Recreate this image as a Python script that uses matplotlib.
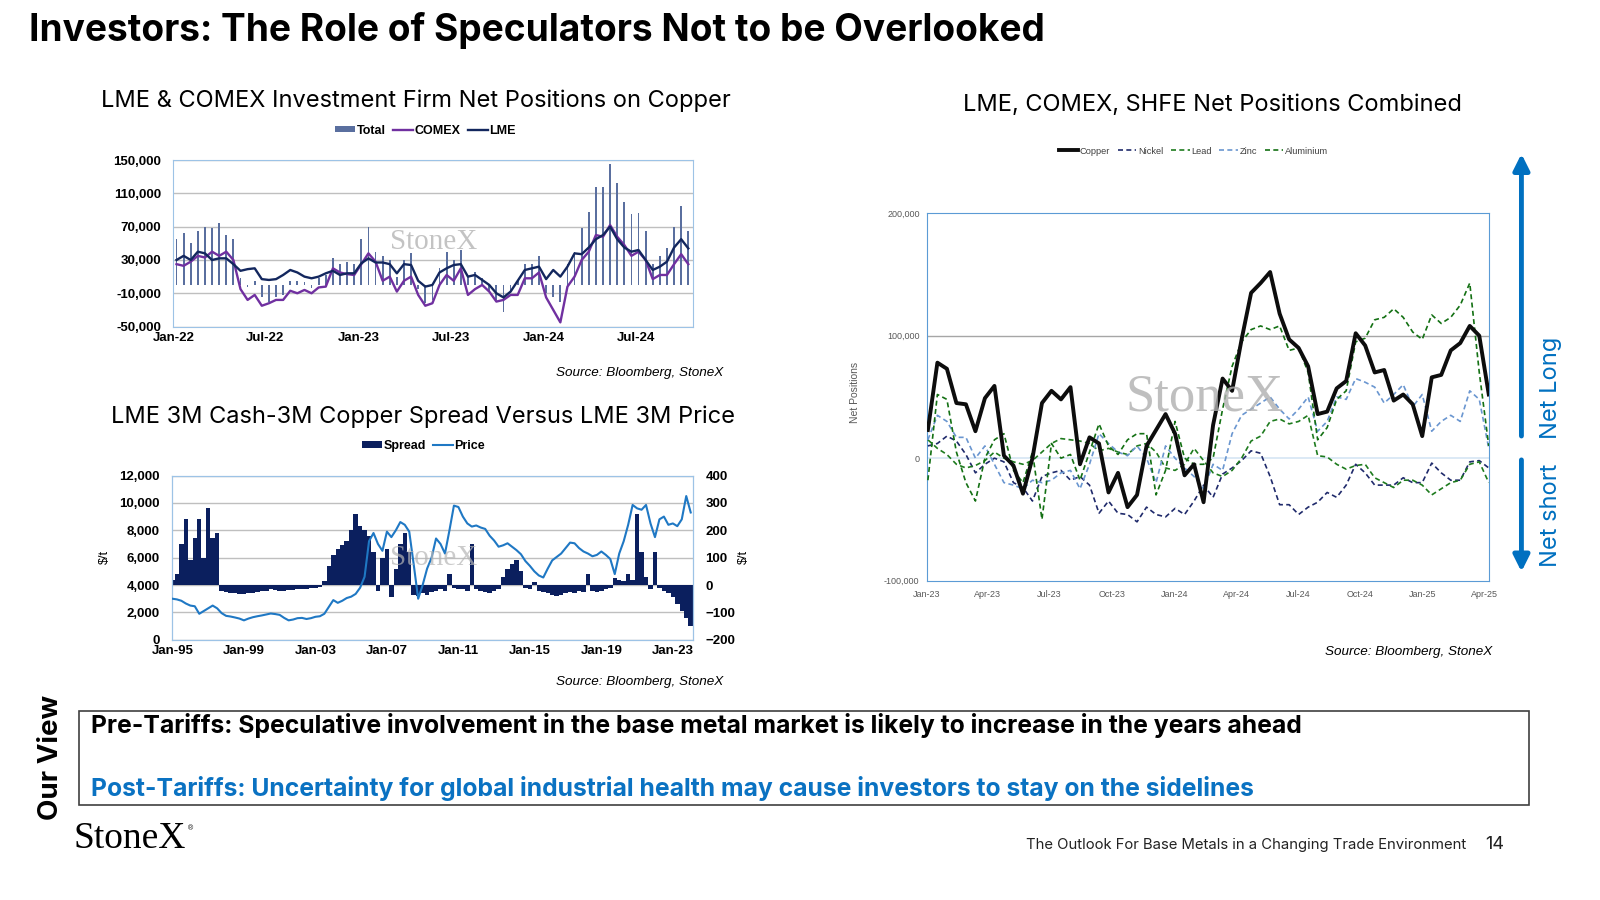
import matplotlib
matplotlib.use('Agg')
import matplotlib.pyplot as plt
from matplotlib.patches import Rectangle, FancyArrowPatch
import numpy as np
import pandas as pd

# ---------------- DATA ----------------
# Top-left: LME & COMEX investment firm net positions (thousand lots), bi-weekly
tl_start = '2022-01-07'
tl_lme = [30, 35, 30, 40, 38, 30, 32, 32, 25, 17,
          19, 20, 7, 6, 7, 12, 18, 15, 10, 8,
          10, 14, 17, 12, 14, 14, 26, 32, 27, 27,
          25, 14, 25, 24, 5, -2, 0, 15, 20, 24,
          25, 10, 12, 6, 0, -10, -15, -8, 5, 18,
          20, 22, 7, 18, 10, 22, 38, 37, 45, 55,
          60, 70, 55, 45, 40, 42, 30, 18, 22, 28,
          45, 55, 44]
tl_comex = [25, 23, 28, 35, 33, 40, 35, 40, 30, -5,
            -18, -12, -25, -22, -18, -18, -7, -10, -6, -10,
            -3, -2, 20, 15, 13, 12, 25, 38, 28, 5,
            10, -8, 5, 10, -12, -25, -22, 0, 12, 5,
            20, -12, -5, 0, -8, -20, -18, -12, -12, 8,
            8, 15, -15, -30, -45, -2, 10, 30, 40, 60,
            58, 72, 58, 48, 35, 40, 30, 7, 12, 12,
            25, 37, 25]
tl_total = [55, 62, 50, 65, 70, 68, 74, 60, 55, 8,
            -3, 5, -15, -20, -15, -12, 5, 5, 3, -4,
            8, 12, 32, 25, 28, 25, 55, 70, 40, 35,
            30, 10, 30, 38, -5, -22, -18, 20, 40, 30,
            42, 10, 15, 8, -8, -18, -32, -10, 5, 25,
            25, 35, -10, -15, -20, 25, 40, 68, 88, 118,
            118, 145, 122, 100, 85, 87, 65, 25, 35, 45,
            70, 95, 65]
tl_ticks = ['2022-01-01', '2022-07-01', '2023-01-01', '2023-07-01', '2024-01-01', '2024-07-01']
tl_ticklabels = ['Jan-22', 'Jul-22', 'Jan-23', 'Jul-23', 'Jan-24', 'Jul-24']

# Bottom-left: LME 3M price ($/t, thousands) and cash-3M spread ($/t), quarterly from 1995
bl_start_year = 1995
bl_price = [3.00, 2.95, 2.85, 2.65,  2.50, 2.45, 1.90, 2.10,  2.30, 2.50, 2.30, 1.95,
            1.75, 1.70, 1.63, 1.55,  1.42, 1.55, 1.65, 1.72,  1.78, 1.85, 1.92, 1.88,
            1.82, 1.60, 1.42, 1.48,  1.58, 1.60, 1.52, 1.58,  1.68, 1.72, 1.90, 2.40,
            2.90, 2.70, 2.85, 3.05,  3.15, 3.35, 3.80, 4.60,  7.20, 7.80, 7.00, 6.50,
            7.90, 7.50, 8.00, 8.60,  8.40, 7.90, 5.50, 3.00,  4.00, 5.20, 6.00, 7.40,
            7.00, 6.30, 8.00, 9.80,  9.70, 9.00, 8.50, 8.27,  8.35, 8.20, 8.10, 7.60,
            7.25, 6.80, 6.90, 7.05,  6.80, 6.55, 6.25, 5.75,  5.40, 5.00, 4.70, 4.55,
            5.20, 5.80, 6.05, 6.30,  6.70, 7.10, 7.05, 6.70,  6.45, 6.30, 6.10, 6.20,
            6.45, 6.20, 5.90, 4.80,  6.30, 7.20, 8.40, 9.85,  9.60, 9.50, 9.85, 8.50,
            7.50, 8.80, 9.00, 8.40,  8.50, 8.30, 8.80, 10.50, 9.30]
bl_spread = [20, 40, 150, 240,  90, 170, 240, 100,  280, 170, 190, -20,
             -25, -28, -30, -32,  -33, -30, -28, -25,  -22, -20, -15, -18,
             -20, -22, -18, -17,  -15, -14, -13, -12,  -10, -8, 15, 70,
             110, 130, 145, 160,  200, 260, 215, 200,  180, 120, -20, 100,
             130, -45, 60, 150,  190, 120, -35, -40,  -30, -35, -25, -20,
             -15, -20, 40, -10,  -15, -15, -20, 150,  -15, -20, -25, -28,
             -22, -15, 30, 60,  75, 90, 50, -10,  -15, 10, -20, -25,
             -30, -35, -40, -35,  -30, -25, -30, -20,  -25, 40, -20, -25,
             -20, -15, -10, 25,  20, 15, 40, 20,  260, 120, 30, -15,
             120, -10, -20, -30,  -45, -70, -95, -120, -150]
bl_ticks = [1995, 1999, 2003, 2007, 2011, 2015, 2019, 2023]
bl_ticklabels = ['Jan-95', 'Jan-99', 'Jan-03', 'Jan-07', 'Jan-11', 'Jan-15', 'Jan-19', 'Jan-23']

# Right: LME, COMEX, SHFE combined net positions (thousands), bi-weekly
r_start = '2023-01-03'
r_copper = [23, 78, 73, 45, 44, 22, 49, 59, 2, -6,
            -29, 0, 45, 55, 48, 58, -5, 17, 12, -28,
            -12, -40, -30, 10, 23, 36, 20, -14, -5, -36,
            27, 65, 55, 97, 135, 143, 152, 118, 97, 90,
            75, 36, 38, 57, 63, 102, 92, 70, 72, 47,
            52, 44, 18, 66, 68, 88, 94, 108, 100, 52]
r_nickel = [10, 12, 18, 14, 3, -12, -5, 0, -3, -20,
            -24, -35, -15, -12, -10, -18, -15, -22, -45, -35,
            -45, -46, -52, -40, -46, -48, -41, -46, -35, -22,
            -32, -13, -8, -2, 6, 4, -15, -38, -38, -46,
            -40, -36, -28, -32, -22, -5, -12, -22, -22, -22,
            -16, -20, -20, -4, -12, -18, -18, -3, -2, -8]
r_lead = [15, 8, 3, -5, -8, -6, -2, 5, 0, -3,
          -5, -2, 5, 12, 16, 15, 14, 12, 6, 8,
          5, 3, 10, 12, 5, -8, -10, -5, 8, -2,
          -12, -15, -10, 0, 14, 18, 30, 32, 28, 30,
          35, 2, 1, -5, -9, -6, -5, -16, -20, -24,
          -18, -18, -22, -30, -25, -20, -18, -5, -3, -20]
r_zinc = [15, 35, 30, 17, 17, 0, 10, -5, -20, -22,
          -25, -18, -20, -18, -12, -10, -25, -5, 20, 12,
          5, 2, 10, 0, -20, 10, 0, -8, -15, -25,
          -5, -10, 20, 35, 40, 45, 50, 40, 32, 40,
          50, 22, 30, 50, 48, 65, 62, 58, 45, 52,
          60, 42, 52, 22, 30, 35, 30, 55, 48, 8]
r_aluminium = [-18, 52, 48, 5, -20, -35, 0, 15, 20, -10,
               -20, 5, -50, 12, 0, 3, -18, 5, 28, 10,
               3, 15, 20, 20, -30, -10, 30, 0, -5, -5,
               0, 40, 75, 95, 105, 108, 105, 108, 88, 90,
               70, 15, 25, 48, 55, 95, 98, 113, 115, 122,
               115, 103, 97, 117, 110, 115, 125, 143, 70, 10]
r_ticks = ['2023-01-01', '2023-04-01', '2023-07-01', '2023-10-01', '2024-01-01',
           '2024-04-01', '2024-07-01', '2024-10-01', '2025-01-01', '2025-04-01']
r_ticklabels = ['Jan-23', 'Apr-23', 'Jul-23', 'Oct-23', 'Jan-24',
                'Apr-24', 'Jul-24', 'Oct-24', 'Jan-25', 'Apr-25']

# ---------------- FIGURE ----------------
W, H = 1600, 900
S = 1600 / 1568.0   # layout measured on a 1568x882 view of the slide
def fx(x): return x * S / W
def fy(y): return 1 - y * S / H
def fw(w): return w * S / W
def fh(h): return h * S / H

HEAD = ['Inter', 'DejaVu Sans']
ARIAL = ['Liberation Sans', 'DejaVu Sans']
NARROW = ['Liberation Sans Narrow', 'Liberation Sans', 'DejaVu Sans']
SERIF = ['Liberation Serif', 'DejaVu Serif']
BLUE = '#0a72c2'
ARROW_BLUE = '#0070c0'

fig = plt.figure(figsize=(16, 9), dpi=100)
fig.patch.set_facecolor('white')

fig.text(fx(28), fy(30), 'Investors: The Role of Speculators Not to be Overlooked',
         ha='left', va='center', fontsize=26.7, fontweight='bold', family=HEAD, color='black')

# ---------- top-left chart ----------
tl_dates = pd.date_range(tl_start, periods=len(tl_lme), freq='14D')
ax1 = fig.add_axes([fx(170), fy(320), fw(679 - 170), fh(320 - 157)])
b1 = ax1.bar(tl_dates, np.array(tl_total) * 1000, width=3.5, color='#5a6f9f', label='Total', zorder=2)
l1, = ax1.plot(tl_dates, np.array(tl_comex) * 1000, color='#7030a0', lw=1.7, label='COMEX', zorder=3)
l2, = ax1.plot(tl_dates, np.array(tl_lme) * 1000, color='#13275e', lw=1.7, label='LME', zorder=4)
ax1.set_ylim(-50000, 150000)
ax1.set_yticks(np.arange(-50000, 150001, 40000))
ax1.set_yticklabels([f'{v:,}' for v in np.arange(-50000, 150001, 40000)])
ax1.set_xlim(pd.Timestamp('2022-01-01'), pd.Timestamp('2024-10-20'))
ax1.set_xticks(pd.to_datetime(tl_ticks))
ax1.set_xticklabels(tl_ticklabels)
ax1.yaxis.grid(True, color='#bfbfbf', lw=1, zorder=0)
ax1.set_axisbelow(True)
for s in ax1.spines.values():
    s.set_color('#9dc3e6')
ax1.tick_params(axis='y', length=0, labelsize=9.5, pad=9)
ax1.tick_params(axis='x', length=0, labelsize=9.5, pad=4)
for lab in ax1.get_xticklabels() + ax1.get_yticklabels():
    lab.set_fontweight('bold'); lab.set_family(ARIAL)
ax1.legend([b1, l1, l2], ['Total', 'COMEX', 'LME'], loc='center',
           bbox_to_anchor=(fx(417), fy(128)), bbox_transform=fig.transFigure,
           ncol=3, frameon=False, prop=dict(family=ARIAL, weight='bold', size=9),
           handlelength=1.6, handleheight=0.4, handletextpad=0.1, columnspacing=0.6)
fig.text(fx(408), fy(99), 'LME & COMEX Investment Firm Net Positions on Copper',
         ha='center', va='center', fontsize=17, family=HEAD)
fig.text(fx(425), fy(237), 'StoneX', ha='center', va='center', fontsize=21,
         family=SERIF, color='#b5b5b5', alpha=0.8, zorder=5)
fig.text(fx(709), fy(366), 'Source: Bloomberg, StoneX', ha='right', va='center',
         fontsize=9.7, style='italic', family=ARIAL)

# ---------- bottom-left chart ----------
bl_years = bl_start_year + 0.25 * np.arange(len(bl_price))
ax2 = fig.add_axes([fx(169), fy(627), fw(679 - 169), fh(627 - 466)])
ax2r = ax2.twinx()
ax2r.bar(bl_years, bl_spread, width=0.25, color='#0b1f5e', label='Spread', zorder=2)
ax2.plot(bl_years, np.array(bl_price) * 1000, color='#1f78c4', lw=1.5, label='Price', zorder=3)
ax2.set_zorder(ax2r.get_zorder() + 1)
ax2.patch.set_visible(False)
ax2.set_ylim(0, 12000)
ax2.set_yticks(np.arange(0, 12001, 2000))
ax2.set_yticklabels([f'{v:,}' for v in np.arange(0, 12001, 2000)])
ax2r.set_ylim(-200, 400)
ax2r.set_yticks(np.arange(-200, 401, 100))
ax2r.yaxis.grid(True, color='#bfbfbf', lw=1, zorder=0)
ax2r.set_axisbelow(True)
ax2.set_xlim(1995, 2024.12)
ax2.set_xticks(bl_ticks)
ax2.set_xticklabels(bl_ticklabels)
for a in (ax2, ax2r):
    for s in a.spines.values():
        s.set_color('#9dc3e6')
    a.tick_params(axis='y', length=0, labelsize=9.5, pad=9)
    a.tick_params(axis='x', length=0, labelsize=9.5, pad=4)
for lab in ax2.get_xticklabels() + ax2.get_yticklabels() + ax2r.get_yticklabels():
    lab.set_fontweight('bold'); lab.set_family(ARIAL)
h1, lb1 = ax2r.get_legend_handles_labels()
h2, lb2 = ax2.get_legend_handles_labels()
ax2.legend(h1 + h2, lb1 + lb2, loc='center', bbox_to_anchor=(fx(415), fy(437)),
           bbox_transform=fig.transFigure, ncol=2, frameon=False,
           prop=dict(family=ARIAL, weight='bold', size=9),
           handlelength=1.6, handleheight=0.4, handletextpad=0.1, columnspacing=0.6)
fig.text(fx(103), fy(546), '$/t', rotation=90, ha='center', va='center', fontsize=9, family=ARIAL)
fig.text(fx(729), fy(546), '$/t', rotation=90, ha='center', va='center', fontsize=9, family=ARIAL)
fig.text(fx(415), fy(408), 'LME 3M Cash-3M Copper Spread Versus LME 3M Price',
         ha='center', va='center', fontsize=17, family=HEAD)
fig.text(fx(425), fy(547), 'StoneX', ha='center', va='center', fontsize=21,
         family=SERIF, color='#b5b5b5', alpha=0.7, zorder=5)
fig.text(fx(709), fy(668), 'Source: Bloomberg, StoneX', ha='right', va='center',
         fontsize=9.7, style='italic', family=ARIAL)

# ---------- right chart ----------
r_dates = pd.date_range(r_start, periods=len(r_copper), freq='14D')
ax3 = fig.add_axes([fx(908), fy(569), fw(1459 - 908), fh(569 - 209)])
ax3.axhline(100000, color='#a6a6a6', lw=1, zorder=1)
ax3.axhline(0, color='#d5e5f4', lw=1.2, zorder=1)
ax3.plot(r_dates, np.array(r_copper) * 1000, color='#0d0d0d', lw=2.8, label='Copper', zorder=6)
ax3.plot(r_dates, np.array(r_nickel) * 1000, color='#1f2a6b', lw=1.2, ls=(0, (3, 2)), label='Nickel', zorder=4)
ax3.plot(r_dates, np.array(r_lead) * 1000, color='#1e7b1e', lw=1.2, ls=(0, (3, 2)), label='Lead', zorder=4)
ax3.plot(r_dates, np.array(r_zinc) * 1000, color='#6a96d0', lw=1.2, ls=(0, (3, 2)), label='Zinc', zorder=4)
ax3.plot(r_dates, np.array(r_aluminium) * 1000, color='#137013', lw=1.2, ls=(0, (3, 2)), label='Aluminium', zorder=4)
ax3.set_ylim(-100000, 200000)
ax3.set_yticks([-100000, 0, 100000, 200000])
ax3.set_yticklabels(['-100,000', '0', '100,000', '200,000'])
ax3.set_xlim(pd.Timestamp('2023-01-01'), pd.Timestamp('2025-04-08'))
ax3.set_xticks(pd.to_datetime(r_ticks))
ax3.set_xticklabels(r_ticklabels)
for s in ax3.spines.values():
    s.set_color('#5b9bd5')
ax3.tick_params(axis='y', length=0, labelsize=6.5, labelcolor='#595959', pad=5)
ax3.tick_params(axis='x', length=0, labelsize=6.5, labelcolor='#595959', pad=7)
for lab in ax3.get_xticklabels() + ax3.get_yticklabels():
    lab.set_family(NARROW)
ax3.legend(loc='center', bbox_to_anchor=(fx(1170), fy(148)), bbox_transform=fig.transFigure,
           ncol=5, frameon=False, prop=dict(family=NARROW, size=6.7),
           labelcolor='#404040', handlelength=2.0, handletextpad=0.2, columnspacing=0.8)
fig.text(fx(838), fy(385), 'Net Positions', rotation=90, ha='center', va='center',
         fontsize=7.5, color='#595959', family=ARIAL)
fig.text(fx(1188), fy(103), 'LME, COMEX, SHFE Net Positions Combined',
         ha='center', va='center', fontsize=17, family=HEAD)
fig.text(fx(1180), fy(390), 'StoneX', ha='center', va='center', fontsize=38,
         family=SERIF, color='#b0b0b0', alpha=0.8, zorder=5)
fig.text(fx(1462), fy(639), 'Source: Bloomberg, StoneX', ha='right', va='center',
         fontsize=9.7, style='italic', family=ARIAL)

# arrows
fig.add_artist(FancyArrowPatch((fx(1491), fy(430)), (fx(1491), fy(148)), transform=fig.transFigure,
                               arrowstyle='-|>', mutation_scale=24, lw=3.5, color=ARROW_BLUE))
fig.add_artist(FancyArrowPatch((fx(1491), fy(448)), (fx(1491), fy(563)), transform=fig.transFigure,
                               arrowstyle='-|>', mutation_scale=24, lw=3.5, color=ARROW_BLUE))
fig.text(fx(1520), fy(380), 'Net Long', rotation=90, ha='center', va='center',
         fontsize=17, color=ARROW_BLUE, family=HEAD)
fig.text(fx(1520), fy(505), 'Net short', rotation=90, ha='center', va='center',
         fontsize=17, color=ARROW_BLUE, family=HEAD)

# ---------- bottom box ----------
fig.add_artist(Rectangle((fx(77), fy(789)), fw(1498 - 77), fh(789 - 697),
                         transform=fig.transFigure, fill=False, edgecolor='#404040', lw=1.2))
fig.text(fx(89), fy(711), 'Pre-Tariffs: Speculative involvement in the base metal market is likely to increase in the years ahead',
         ha='left', va='center', fontsize=17.8, fontweight='bold', family=HEAD, color='black')
fig.text(fx(89), fy(773), 'Post-Tariffs: Uncertainty for global industrial health may cause investors to stay on the sidelines',
         ha='left', va='center', fontsize=17.8, fontweight='bold', family=HEAD, color=BLUE)
fig.text(fx(50), fy(742), 'Our View', rotation=90, ha='center', va='center',
         fontsize=20, fontweight='bold', family=HEAD, color='black')

# footer
fig.text(fx(72), fy(822), 'StoneX', ha='left', va='center', fontsize=27, family=SERIF, color='black')
fig.text(fx(184), fy(812), '®', ha='left', va='center', fontsize=5, family=ARIAL, color='black')
fig.text(fx(1437), fy(828), 'The Outlook For Base Metals in a Changing Trade Environment',
         ha='right', va='center', fontsize=10.7, family=HEAD, color='#222222')
fig.text(fx(1465), fy(828), '14', ha='center', va='center', fontsize=13, family=HEAD, color='#222222')

fig.savefig('out.png', dpi=100, facecolor='white')
